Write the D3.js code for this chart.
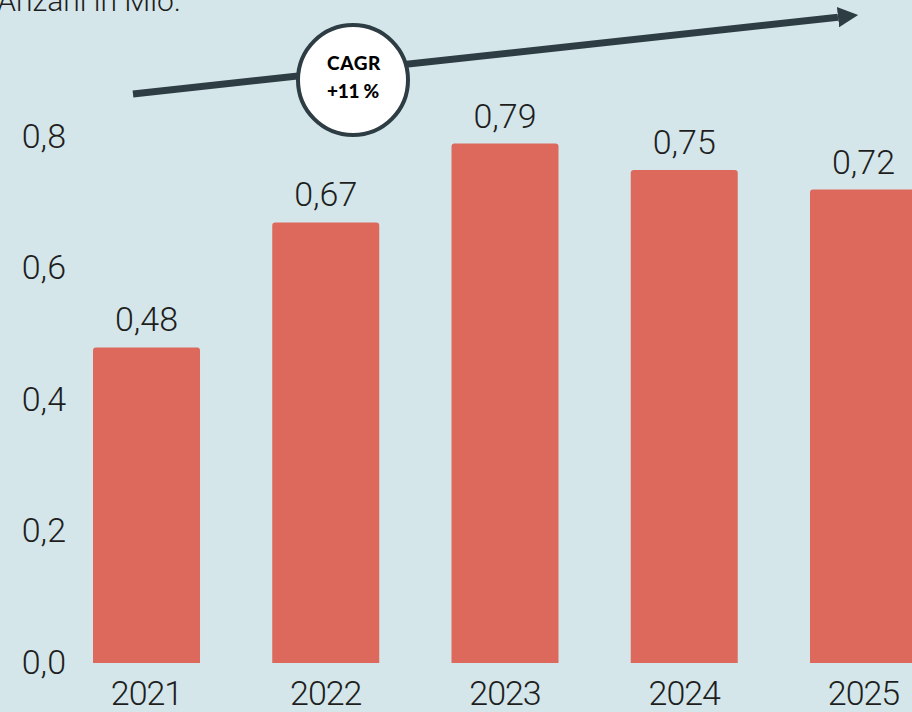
<!DOCTYPE html>
<html><head><meta charset="utf-8">
<script src="https://cdn.jsdelivr.net/npm/d3@7"></script>
<style>
html,body{margin:0;padding:0;background:#d4e6e9;}
svg{display:block;}
</style></head>
<body>
<script>
const years = ["2021","2022","2023","2024","2025"];
const values = [0.48, 0.67, 0.79, 0.75, 0.72];
const valueLabels = ["0,48","0,67","0,79","0,75","0,72"];
const yTicks = [0, 0.2, 0.4, 0.6, 0.8];
const yTickLabels = ["0,0","0,2","0,4","0,6","0,8"];
const title = "Anzahl in Mio.";
const cagrLines = ["CAGR", "+11 %"];

const W = 912, H = 712;
const svg = d3.select("body").append("svg").attr("width", W).attr("height", H);
svg.append("rect").attr("width", W).attr("height", H).attr("fill", "#d4e6e9");

const font = "Roboto, 'Liberation Sans', sans-serif";
const txt = "#1e1e1e";
const fs = 34;

const x = d3.scaleBand().domain(years).range([56.875, 953.125]).paddingInner(0.403).paddingOuter(0.2015);
const y = d3.scaleLinear().domain([0, 0.8]).range([663, 137]);

// title (partially cut off at top, as in the reference)
svg.append("text").attr("x", 181).attr("y", 11).attr("text-anchor", "end")
  .attr("font-family", font).attr("font-weight", 300).attr("font-size", 30).attr("fill", txt).text(title);

// y axis labels
const yAxis = d3.axisLeft(y).tickValues(yTicks).tickFormat((d, i) => yTickLabels[i]).tickSize(0).tickPadding(0);
const gy = svg.append("g").attr("transform", "translate(66,0)").call(yAxis);
gy.select(".domain").remove();
gy.selectAll("text").attr("font-family", font).attr("font-weight", 300).attr("font-size", fs).attr("fill", txt).attr("dy", "0.3em");

// bars
const r = 3;
svg.append("g").selectAll("path").data(values).join("path")
  .attr("fill", "#dd695d")
  .attr("d", (d, i) => {
    const x0 = x(years[i]), w = x.bandwidth(), y0 = y(d), y1 = y(0);
    return `M${x0},${y1}V${y0 + r}Q${x0},${y0} ${x0 + r},${y0}H${x0 + w - r}Q${x0 + w},${y0} ${x0 + w},${y0 + r}V${y1}Z`;
  });

// value labels
svg.append("g").selectAll("text").data(values).join("text")
  .attr("x", (d, i) => x(years[i]) + x.bandwidth() / 2)
  .attr("y", d => y(d) - 16)
  .attr("text-anchor", "middle")
  .attr("font-family", font).attr("font-weight", 300).attr("font-size", fs).attr("fill", txt)
  .text((d, i) => valueLabels[i]);

// x axis labels
const xAxis = d3.axisBottom(x).tickSize(0).tickPadding(0);
const gx = svg.append("g").attr("transform", "translate(0,663)").call(xAxis);
gx.select(".domain").remove();
gx.selectAll("text").attr("font-family", font).attr("font-weight", 300).attr("font-size", fs).attr("fill", txt)
  .attr("letter-spacing", -1).attr("y", 42).attr("dy", 0);

// CAGR arrow
const arrowCol = "#2e3d44";
const defs = svg.append("defs");
defs.append("marker").attr("id", "ah").attr("viewBox", "0 0 10 10").attr("refX", 0).attr("refY", 5)
  .attr("markerWidth", 2.9).attr("markerHeight", 5.6).attr("markerUnits", "strokeWidth").attr("orient", "auto")
  .append("path").attr("d", "M0,0L10,5L0,10Z").attr("fill", arrowCol);
svg.append("line").attr("x1", 133).attr("y1", 94).attr("x2", 838).attr("y2", 17.2)
  .attr("stroke", arrowCol).attr("stroke-width", 7).attr("marker-end", "url(#ah)");

svg.append("circle").attr("cx", 353).attr("cy", 80).attr("r", 55)
  .attr("fill", "#fff").attr("stroke", arrowCol).attr("stroke-width", 4);
svg.append("text").attr("x", 354).attr("y", 70).attr("text-anchor", "middle")
  .attr("font-family", "Lato, 'Open Sans', sans-serif").attr("font-weight", 900).attr("font-size", 19).attr("letter-spacing", 0.6).attr("fill", "#000").text(cagrLines[0]);
svg.append("text").attr("x", 353).attr("y", 98).attr("text-anchor", "middle")
  .attr("font-family", "Lato, 'Open Sans', sans-serif").attr("font-weight", 900).attr("font-size", 19).attr("letter-spacing", -0.3).attr("fill", "#000").text(cagrLines[1]);
</script>
</body></html>
